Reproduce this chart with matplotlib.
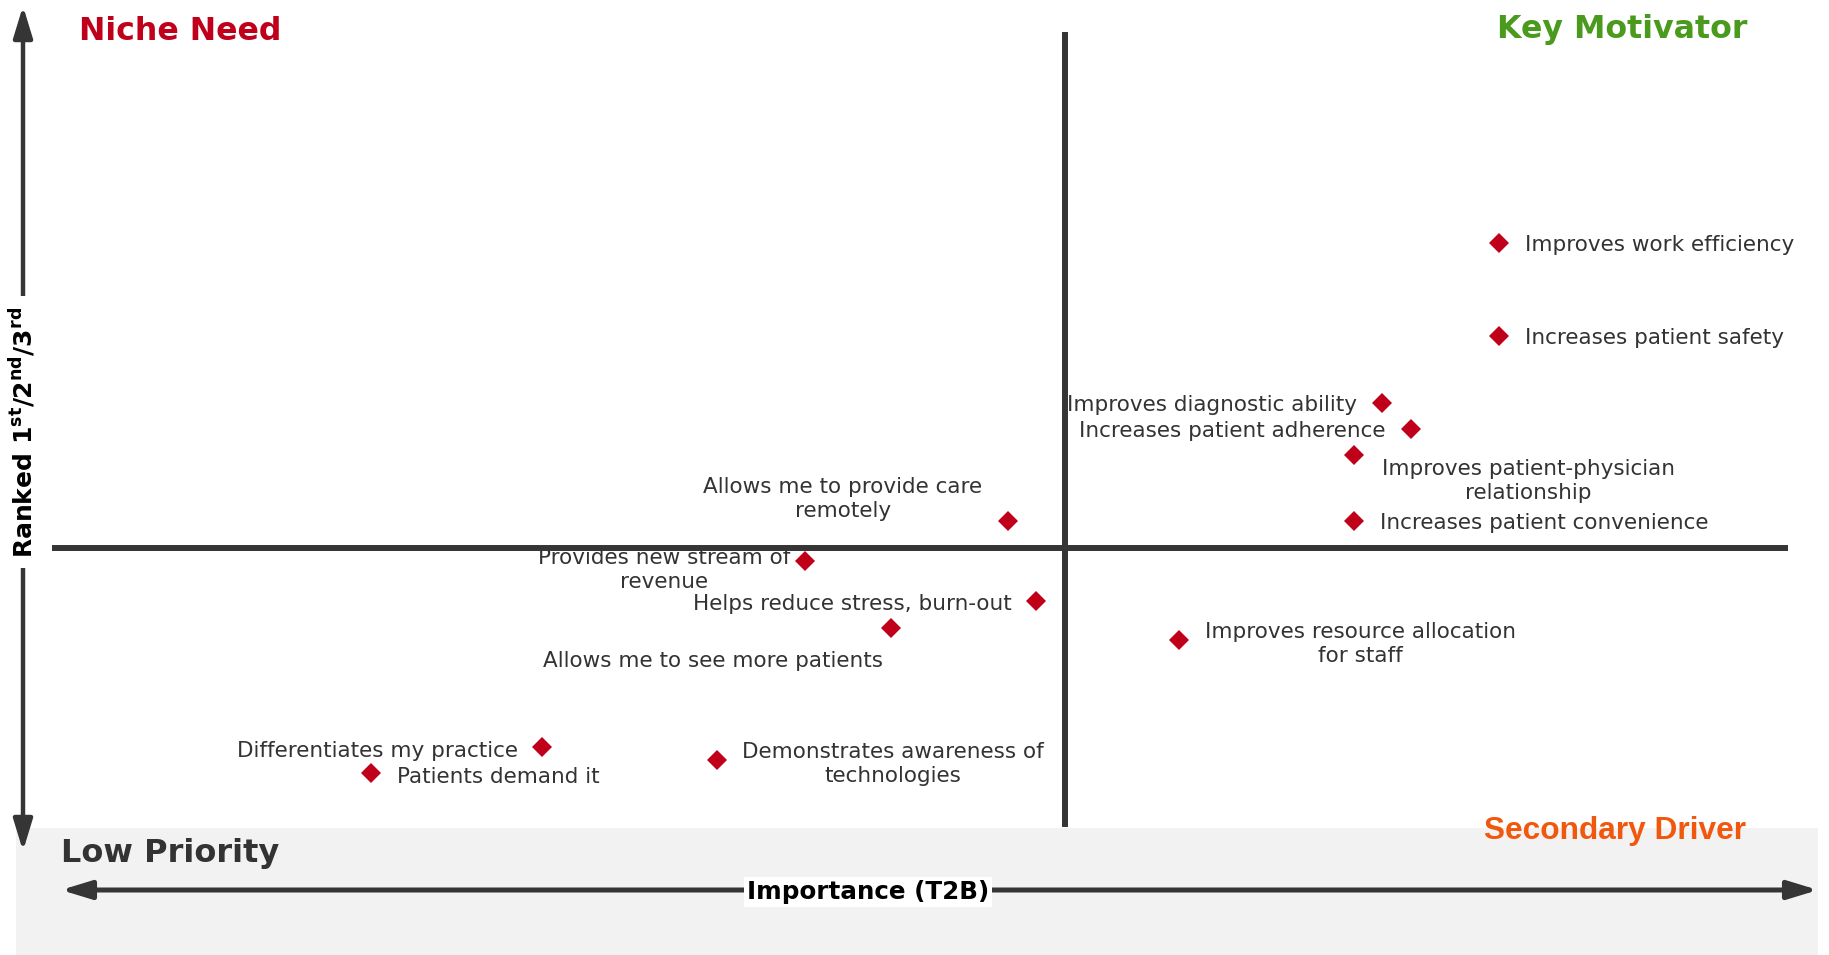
import matplotlib
matplotlib.use("Agg")
import matplotlib.pyplot as plt
from matplotlib.patches import Rectangle, FancyArrowPatch

# ---- data -------------------------------------------------------------
attributes = [
    "Improves work efficiency",
    "Increases patient safety",
    "Improves diagnostic ability",
    "Increases patient adherence",
    "Improves patient-physician\nrelationship",
    "Increases patient convenience",
    "Allows me to provide care\nremotely",
    "Provides new stream of\nrevenue",
    "Helps reduce stress, burn-out",
    "Allows me to see more patients",
    "Improves resource allocation\nfor staff",
    "Differentiates my practice",
    "Patients demand it",
    "Demonstrates awareness of\ntechnologies",
]
importance_t2b = [91.7, 91.7, 87.2, 88.3, 86.1, 86.1, 72.8, 65.0, 73.9, 68.3, 79.4, 54.9, 48.3, 61.6]
ranked_top3 = [60.5, 51.2, 44.5, 41.9, 39.3, 32.7, 32.7, 28.7, 24.7, 22.0, 20.8, 10.1, 7.5, 8.8]

importance_mid = 75.0
ranked_mid = 30.0

quadrant_names = ["Niche Need", "Key Motivator", "Secondary Driver", "Low Priority"]
x_title = "Importance (T2B)"
y_title = r"Ranked 1$^{\mathbf{st}}$/2$^{\mathbf{nd}}$/3$^{\mathbf{rd}}$"

# ---- label placement (offset in pixels from each marker, alignment) ----
label_layout = [
    (26, -2, "left"),
    (26, -2, "left"),
    (-25, -2, "right"),
    (-25, -2, "right"),
    (175, -26, "center"),
    (26, -2, "left"),
    (-165, 22, "center"),
    (-141, -9, "center"),
    (-25, -3, "right"),
    (-178, -33, "center"),
    (181, -4, "center"),
    (-24, -4, "right"),
    (26, -4, "left"),
    (176, -4, "center"),
]

# ---- figure -----------------------------------------------------------
W, H = 1829, 955
DPI = 100
fig = plt.figure(figsize=(W / DPI, H / DPI), dpi=DPI)
fig.patch.set_facecolor("white")
ax = fig.add_axes([0, 0, 1, 1])
ax.set_axis_off()

# data scale: 26 px per point of importance, 10 px per point of ranking
ax.set_xlim(importance_mid - 1065 / 26, importance_mid + (W - 1065) / 26)
ax.set_ylim(ranked_mid - (H - 548) / 10, ranked_mid + 548 / 10)

LINE = "#353535"
TEXT = "#333333"
RED = "#C00018"


def fpx(px, py):
    """Pixel position measured from the top-left corner -> figure pixels."""
    return (px, H - py)


# grey band at the bottom
band = Rectangle(fpx(16, H), 1818 - 16, H - 828, transform=None,
                 facecolor="#F2F2F2", edgecolor="none", zorder=0)
fig.add_artist(band)

# quadrant dividers
ax.axvline(importance_mid, ymin=(H - 827) / H, ymax=(H - 32) / H,
           color=LINE, lw=4.3, solid_capstyle="butt", zorder=3)
ax.axhline(ranked_mid, xmin=52 / W, xmax=1788 / W,
           color=LINE, lw=4.3, solid_capstyle="butt", zorder=3)

# vertical (ranking) arrow
v_arrow = FancyArrowPatch(fpx(23, 851), fpx(23, 6), transform=None,
                          arrowstyle="<|-|>,head_length=1.9,head_width=0.58",
                          mutation_scale=10, lw=3.2, color=LINE,
                          shrinkA=0, shrinkB=0, zorder=2)
fig.add_artist(v_arrow)

# horizontal (importance) arrow
h_arrow = FancyArrowPatch(fpx(61, 890), fpx(1818, 890), transform=None,
                          arrowstyle="<|-|>,head_length=1.8,head_width=0.55",
                          mutation_scale=10, lw=3.6, color=LINE,
                          shrinkA=0, shrinkB=0, zorder=2)
fig.add_artist(h_arrow)

# axis titles
fig.text(*fpx(868, 892), x_title, transform=None, ha="center", va="center",
         fontsize=17.7, fontweight="bold", color="black", zorder=5,
         bbox=dict(boxstyle="square,pad=0.12", facecolor="white", edgecolor="none"))
fig.text(*fpx(23, 432), y_title, transform=None, ha="center", va="center",
         rotation=90, fontsize=18, fontweight="bold", color="black", zorder=5,
         bbox=dict(boxstyle="square,pad=0.4", facecolor="white", edgecolor="none"))

# quadrant names
fig.text(*fpx(79, 40), quadrant_names[0], transform=None, ha="left", va="baseline",
         fontsize=22.8, fontweight="bold", color="#C0001A")
fig.text(*fpx(1747, 38), quadrant_names[1], transform=None, ha="right", va="baseline",
         fontsize=22.8, fontweight="bold", color="#4A9A1E")
fig.text(*fpx(1746, 839), quadrant_names[2], transform=None, ha="right", va="baseline",
         fontsize=22.8, fontweight="bold", color="#F0580E",
         family=["Liberation Sans", "DejaVu Sans"])
fig.text(*fpx(61, 862), quadrant_names[3], transform=None, ha="left", va="baseline",
         fontsize=23, fontweight="bold", color=TEXT)

# attribute markers
ax.plot(importance_t2b, ranked_top3, linestyle="none", marker="D",
        markersize=10, markeredgewidth=0, color=RED, zorder=4)

# attribute labels
for name, x, y, (dx, dy, ha) in zip(attributes, importance_t2b, ranked_top3, label_layout):
    ax.annotate(name, xy=(x, y), xytext=(dx, dy), textcoords="offset pixels",
                ha=ha, va="center", multialignment="center",
                fontsize=15.5, color=TEXT, zorder=2, linespacing=1.25)

fig.savefig("out.png", dpi=DPI)
